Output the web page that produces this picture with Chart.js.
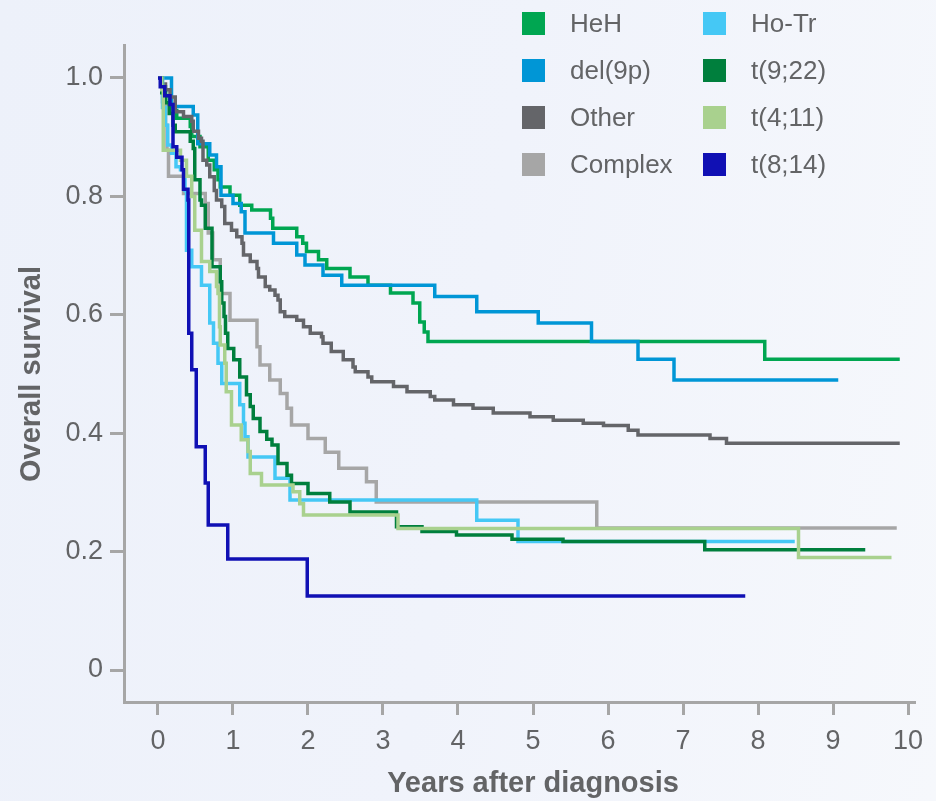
<!DOCTYPE html>
<html>
<head>
<meta charset="utf-8">
<title>Overall survival by cytogenetic subgroup</title>
<script src="https://cdn.jsdelivr.net/npm/chart.js@4.4.1/dist/chart.umd.min.js"></script>
<style>
  html, body { margin: 0; padding: 0; }
  body {
    width: 936px; height: 801px; overflow: hidden;
    background: linear-gradient(100deg, #edf1fa 0%, #f0f3fb 50%, #f6f8fc 100%);
    font-family: "Liberation Sans", Arial, sans-serif;
  }
  #wrap { position: relative; width: 936px; height: 801px; }
  #chart { position: absolute; left: 0; top: 0; }
  .legend-item {
    position: absolute; height: 26px;
    display: flex; align-items: center;
    color: #636466; font-size: 26px; white-space: nowrap;
  }
  .legend-item .swatch { width: 23px; height: 23px; margin-right: 25px; flex: none; }
</style>
</head>
<body>
<div id="wrap">
  <canvas id="chart" width="936" height="801"></canvas>
  <div id="legend"></div>
</div>
<script>
// Cytogenetic subgroups, in plotting order
const groupNames = ['HeH', 'del(9p)', 'Other', 'Complex', 'Ho-Tr', 't(9;22)', 't(4;11)', 't(8;14)'];
const groupColors = ['#00a651', '#0096d6', '#646569', '#a6a6a6', '#45c8f5', '#007f3d', '#a9d18e', '#1010b4'];

// Kaplan-Meier steps: time of each drop (years) and survival after it
const hehYears = [0, 0.05, 0.1, 0.15, 0.2, 0.25, 0.43, 0.45, 0.56, 0.67, 0.75, 0.8, 0.83, 0.96, 1.09, 1.25, 1.5, 1.53, 1.85, 1.93, 1.98, 2.14, 2.25, 2.56, 2.8, 3.1, 3.4, 3.49, 3.55, 3.6, 8.09, 9.89];
const hehSurv = [1, 0.985, 0.97, 0.955, 0.945, 0.932, 0.918, 0.901, 0.884, 0.861, 0.845, 0.828, 0.816, 0.802, 0.785, 0.777, 0.763, 0.746, 0.732, 0.721, 0.707, 0.693, 0.678, 0.664, 0.65, 0.637, 0.62, 0.588, 0.571, 0.555, 0.525, 0.525];

const del9pYears = [0, 0.18, 0.47, 0.53, 0.69, 0.78, 0.84, 1.0, 1.11, 1.16, 1.54, 1.85, 1.96, 2.2, 2.45, 3.69, 4.25, 5.07, 5.78, 6.4, 6.88, 9.07];
const del9pSurv = [1, 0.952, 0.9375, 0.889, 0.87, 0.85, 0.802, 0.788, 0.774, 0.738, 0.721, 0.701, 0.684, 0.667, 0.65, 0.631, 0.605, 0.586, 0.555, 0.525, 0.49, 0.49];

const otherYears = [0, 0.05, 0.1, 0.16, 0.23, 0.34, 0.45, 0.47, 0.54, 0.58, 0.6, 0.65, 0.69, 0.75, 0.78, 0.85, 0.89, 0.98, 1.05, 1.12, 1.14, 1.23, 1.32, 1.34, 1.43, 1.49, 1.56, 1.6, 1.63, 1.69, 1.85, 1.94, 2.03, 2.18, 2.2, 2.31, 2.47, 2.6, 2.63, 2.8, 2.85, 3.14, 3.32, 3.63, 3.69, 3.94, 4.2, 4.47, 4.96, 5.27, 5.67, 5.94, 6.27, 6.4, 7.36, 7.58, 9.89];
const otherSurv = [1, 0.99, 0.98, 0.968, 0.943, 0.935, 0.927, 0.91, 0.898, 0.893, 0.861, 0.853, 0.833, 0.81, 0.794, 0.783, 0.754, 0.743, 0.732, 0.721, 0.701, 0.69, 0.678, 0.664, 0.648, 0.642, 0.633, 0.625, 0.605, 0.597, 0.591, 0.58, 0.569, 0.563, 0.552, 0.538, 0.524, 0.512, 0.504, 0.495, 0.487, 0.479, 0.47, 0.462, 0.456, 0.448, 0.442, 0.434, 0.428, 0.422, 0.417, 0.413, 0.405, 0.397, 0.391, 0.383, 0.383];

const complexYears = [0, 0.06, 0.1, 0.12, 0.14, 0.34, 0.63, 0.67, 0.73, 0.83, 0.96, 1.32, 1.36, 1.49, 1.63, 1.72, 1.78, 2.0, 2.23, 2.41, 2.78, 2.91, 5.85, 9.85];
const complexSurv = [1, 0.96, 0.92, 0.878, 0.834, 0.805, 0.788, 0.738, 0.693, 0.636, 0.591, 0.546, 0.515, 0.49, 0.467, 0.442, 0.414, 0.391, 0.368, 0.341, 0.318, 0.284, 0.24, 0.24];

const hoTrYears = [0, 0.06, 0.1, 0.13, 0.18, 0.24, 0.3, 0.36, 0.38, 0.45, 0.58, 0.69, 0.74, 0.8, 0.85, 1.09, 1.14, 1.16, 1.2, 1.56, 1.76, 4.25, 4.8, 8.49];
const hoTrSurv = [1, 0.95, 0.92, 0.887, 0.873, 0.85, 0.845, 0.81, 0.709, 0.681, 0.65, 0.586, 0.552, 0.518, 0.484, 0.448, 0.417, 0.394, 0.36, 0.324, 0.287, 0.253, 0.217, 0.217];

const t922Years = [0, 0.05, 0.1, 0.15, 0.2, 0.23, 0.43, 0.47, 0.49, 0.56, 0.58, 0.63, 0.72, 0.83, 0.85, 0.88, 0.9, 0.93, 1.01, 1.09, 1.18, 1.23, 1.27, 1.36, 1.45, 1.52, 1.6, 1.72, 1.78, 2.0, 2.29, 2.56, 3.18, 3.52, 3.98, 4.72, 5.4, 7.29, 9.43];
const t922Surv = [1, 0.975, 0.958, 0.94, 0.92, 0.909, 0.893, 0.881, 0.828, 0.794, 0.785, 0.746, 0.681, 0.656, 0.62, 0.597, 0.569, 0.543, 0.524, 0.495, 0.465, 0.445, 0.425, 0.403, 0.39, 0.38, 0.349, 0.329, 0.315, 0.298, 0.284, 0.267, 0.242, 0.234, 0.228, 0.221, 0.217, 0.203, 0.203];

const t411Years = [0, 0.05, 0.07, 0.3, 0.38, 0.45, 0.49, 0.58, 0.69, 0.78, 0.8, 0.82, 0.83, 0.89, 0.91, 0.98, 1.11, 1.2, 1.23, 1.38, 1.8, 1.89, 1.94, 3.2, 8.54, 9.78];
const t411Surv = [1, 0.98, 0.878, 0.861, 0.834, 0.8, 0.743, 0.69, 0.673, 0.648, 0.636, 0.58, 0.549, 0.518, 0.47, 0.414, 0.389, 0.369, 0.332, 0.3125, 0.301, 0.281, 0.262, 0.239, 0.19, 0.19];

const t814Years = [0, 0.03, 0.09, 0.16, 0.2, 0.25, 0.32, 0.34, 0.4, 0.41, 0.45, 0.51, 0.63, 0.67, 0.93, 1.99, 7.83];
const t814Surv = [1, 0.985, 0.97, 0.955, 0.884, 0.866, 0.845, 0.812, 0.794, 0.569, 0.507, 0.377, 0.316, 0.245, 0.1875, 0.125, 0.125];

const xTickValues = [0, 1, 2, 3, 4, 5, 6, 7, 8, 9, 10];
const yTickValues = [0, 0.2, 0.4, 0.6, 0.8, 1.0];
const xTitle = 'Years after diagnosis';
const yTitle = 'Overall survival';

const axisColor = '#a6a6a6';
const labelColor = '#636466';
const fontFamily = '"Liberation Sans", Arial, sans-serif';

const groupYears = [hehYears, del9pYears, otherYears, complexYears, hoTrYears, t922Years, t411Years, t814Years];
const groupSurv = [hehSurv, del9pSurv, otherSurv, complexSurv, hoTrSurv, t922Surv, t411Surv, t814Surv];

const datasets = groupNames.map((name, i) => ({
    label: name,
    data: groupYears[i].map((t, k) => ({ x: t, y: groupSurv[i][k] })),
    borderColor: groupColors[i],
    backgroundColor: groupColors[i],
    borderWidth: 3.5,
    stepped: 'before',
    pointRadius: 0,
    fill: false,
    // first group at the bottom, last one on top
    order: groupNames.length - i
}));

// Axis titles centred on the labelled tick range
const axisTitles = {
    id: 'axisTitles',
    afterDraw(chart) {
        const { ctx, scales: { x, y } } = chart;
        ctx.save();
        ctx.fillStyle = labelColor;
        ctx.font = 'bold 29px ' + fontFamily;
        ctx.textAlign = 'center';
        ctx.textBaseline = 'alphabetic';

        const xMid = (x.getPixelForValue(xTickValues[0]) + x.getPixelForValue(xTickValues[xTickValues.length - 1])) / 2;
        ctx.fillText(xTitle, xMid, chart.height - 9);

        const yMid = (y.getPixelForValue(yTickValues[0]) + y.getPixelForValue(yTickValues[yTickValues.length - 1])) / 2;
        ctx.translate(40, yMid);
        ctx.rotate(-Math.PI / 2);
        ctx.fillText(yTitle, 0, 0);
        ctx.restore();
    }
};

Chart.defaults.font.family = fontFamily;

new Chart(document.getElementById('chart'), {
    type: 'line',
    data: { datasets: datasets },
    plugins: [axisTitles],
    options: {
        responsive: false,
        animation: false,
        layout: { padding: { top: 45, right: 21, left: 0, bottom: 0 } },
        plugins: {
            legend: { display: false },
            tooltip: { enabled: false }
        },
        scales: {
            x: {
                type: 'linear',
                min: -0.4533,
                max: 10.0933,
                afterFit: scale => { scale.height = 99; },
                afterBuildTicks: scale => { scale.ticks = xTickValues.map(v => ({ value: v })); },
                grid: { drawOnChartArea: false, drawTicks: true, tickLength: 13, tickWidth: 3, tickColor: axisColor },
                border: { display: true, color: axisColor, width: 3 },
                ticks: { color: labelColor, font: { size: 27 }, padding: 10, maxRotation: 0, callback: v => String(v) }
            },
            y: {
                type: 'linear',
                min: -0.054,
                max: 1.0557,
                afterFit: scale => { scale.width = 124; },
                afterBuildTicks: scale => { scale.ticks = yTickValues.map(v => ({ value: v })); },
                grid: { drawOnChartArea: false, drawTicks: true, tickLength: 14, tickWidth: 3, tickColor: axisColor },
                border: { display: true, color: axisColor, width: 3 },
                ticks: { color: labelColor, font: { size: 27 }, padding: 7, callback: v => v === 0 ? '0' : v.toFixed(1) }
            }
        }
    }
});

// Two-column legend in the upper right corner
const legend = document.getElementById('legend');
groupNames.forEach((name, i) => {
    const item = document.createElement('div');
    item.className = 'legend-item';
    item.style.left = (522 + Math.floor(i / 4) * 181) + 'px';
    item.style.top = (10 + (i % 4) * 47) + 'px';
    item.innerHTML = '<span class="swatch" style="background:' + groupColors[i] + '"></span><span>' + name + '</span>';
    legend.appendChild(item);
});
</script>
</body>
</html>
